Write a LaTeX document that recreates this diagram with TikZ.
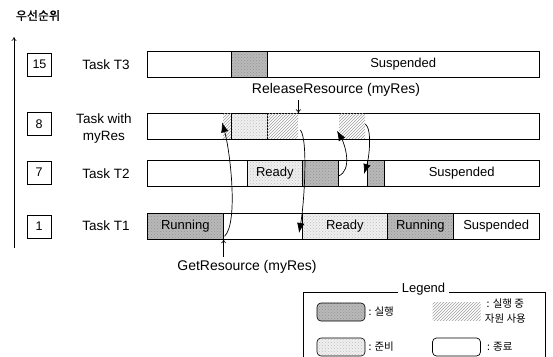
\documentclass[tikz,border=0pt]{standalone}
\usepackage{fontspec}
\setmainfont{Liberation Sans}
\newfontfamily\kofont{Noto Sans CJK KR}
\newfontfamily\kofontb{Noto Sans CJK KR}[FakeBold=1.2]
\usetikzlibrary{
  arrows.meta,
  patterns,
  positioning,
  calc
}
\tikzset{
  % Fills of the three states
  runfill/.style={
    draw, line width=0.6pt,
    preaction={fill=gray!55},
    pattern=crosshatch dots, pattern color=gray!85
  },
  readyfill/.style={
    draw, line width=0.6pt,
    preaction={fill=gray!12},
    pattern=crosshatch dots, pattern color=gray!50
  },
  holdfill/.style={pattern=north east lines, pattern color=gray!75},
  % Whole time line of one task
  lane/.style={
    rectangle, draw, line width=0.8pt, fill=white, anchor=west,
    minimum width=392, minimum height=26, inner sep=0pt
  },
  % One piece of a time line, #1 = its length
  seg/.style={
    rectangle, anchor=west, inner sep=0pt,
    minimum width=#1, minimum height=26,
    font=\fontsize{13}{15}\selectfont
  },
  runseg/.style={seg=#1, runfill},
  readyseg/.style={seg=#1, readyfill},
  holdseg/.style={seg=#1, holdfill, minimum height=25},
  % Priority box
  prio/.style={
    rectangle, draw, line width=0.7pt,
    minimum width=24, minimum height=23, inner sep=0pt,
    font=\fontsize{12.5}{14}\selectfont
  },
  tasklbl/.style={font=\fontsize{13.5}{17}\selectfont, align=center},
  calllbl/.style={font=\fontsize{14}{16}\selectfont},
  % Arrows
  flow/.style={-{Latex[length=10pt,width=7.5pt]}, line width=0.7pt},
  call/.style={-{To[length=4pt,width=5pt]}, line width=0.6pt},
  % Legend
  legframe/.style={
    rectangle, draw, line width=0.7pt,
    minimum width=242, minimum height=78, inner sep=0pt
  },
  legsw/.style={
    rectangle, rounded corners=4pt,
    minimum width=48, minimum height=18, inner sep=0pt
  },
  legtxt/.style={
    font=\kofont\fontsize{10.5}{15}\selectfont, inner sep=1pt, align=center
  }
}

\begin{document}
\begin{tikzpicture}[x=1pt, y=-1pt]
  \useasboundingbox (0,0) rectangle (553,356);

  % Priority axis
  \node[font=\kofontb\fontsize{12}{14}\selectfont] (ylbl) at (38,15.5) {우선순위};
  \coordinate (axbot) at (14,248);
  \coordinate (axtop) at (14,37);
  \draw[-{To[length=4pt,width=5pt]}, line width=0.6pt] (axbot) -- (axtop);

  % Priorities and task names
  \node[prio] (p15) at (39.5,64.5) {15};
  \node[prio] (p8)  at (39,124)    {8};
  \node[prio] (p7)  at (39,172.5)  {7};
  \node[prio] (p1)  at (39,226.5)  {1};

  \node[tasklbl] (n3)   at (106,65)  {Task T3};
  \node[tasklbl] (nres) at (104,129) {Task with\\myRes};
  \node[tasklbl] (n2)   at (106,174) {Task T2};
  \node[tasklbl] (n1)   at (106,226) {Task T1};

  % Time lines
  \node[lane] (l3)   at (147,64.5) {};
  \node[lane] (lres) at (147,126)  {};
  \node[lane] (l2)   at (147,173)  {};
  \node[lane] (l1)   at (147,226)  {};

  % Task T3
  \node[runseg=36] (t3run) at (231,64.5) {};
  \node[seg=272]   (t3sus) at (267,64.5) {Suspended};

  % Task with myRes
  \node[holdseg=8]   (rhold1) at (223,126) {};
  \node[readyseg=36] (rready) at (231,126) {};
  \node[holdseg=31]  (rhold2) at (267,126) {};
  \node[holdseg=26]  (rhold3) at (339,126) {};

  % Task T2
  \node[readyseg=55] (t2ready) at (247,173) {Ready};
  \node[runseg=36]   (t2run1)  at (302,173) {};
  \node[runseg=17]   (t2run2)  at (367,173) {};
  \node[seg=155]     (t2sus)   at (384,173) {Suspended};

  % Task T1
  \node[runseg=76]   (t1run1)  at (147,226) {Running};
  \node[readyseg=85] (t1ready) at (302,226) {Ready};
  \node[runseg=66]   (t1run2)  at (387,226) {Running};
  \node[seg=86]      (t1sus)   at (453,226) {Suspended};

  % Service calls
  \node[calllbl] (rel) at (336,90)  {ReleaseResource (myRes)};
  \node[calllbl] (get) at (247,267) {GetResource (myRes)};
  \draw[call] (rel.south -| rhold2.east) -- (rhold2.north east);
  \draw[call] (get.north -| t1run1.east) -- (t1run1.south east);

  % Switches between tasks
  \draw[flow] ($(t1run1.south east)+(1,-3)$) .. controls +(14,-14) and +(8,28) .. ($(rhold1.north west)+(-1,9)$);
  \draw[flow] ($(rhold2.east)+(2,4)$) .. controls +(8,10) and +(5,-28) .. ($(t1ready.west)+(-3,7)$);
  \draw[flow] ($(t2run1.east)+(0,3)$) .. controls +(14,-6) and +(8,14) .. ($(rhold3.south west)+(-2,-8)$);
  \draw[flow] ($(rhold3.east)+(0,-2)$) .. controls +(7,6) and +(5,-16) .. ($(t2run2.west)+(-3,1)$);

  % Legend
  \node[legframe] (legend) at (424,331) {};
  \node[fill=white, inner sep=4pt, font=\fontsize{13}{15}\selectfont] (legt) at (423.5,289) {Legend};
  \node[legsw, runfill]         (krun)   at (341,312)   {};
  \node[legsw, holdfill, rounded corners=0pt] (khold) at (456.5,311.5) {};
  \node[legsw, readyfill]       (kready) at (341,347)   {};
  \node[legsw, draw, line width=0.7pt] (kdone) at (456.5,347) {};
  \node[legtxt, right=2pt of krun]   (krunl)   {: 실행};
  \node[legtxt, right=3pt of khold]  (kholdl)  {: 실행 중\\자원 사용};
  \node[legtxt, right=2pt of kready] (kreadyl) {: 준비};
  \node[legtxt, right=5pt of kdone]  (kdonel)  {: 종료};

\end{tikzpicture}
\end{document}
